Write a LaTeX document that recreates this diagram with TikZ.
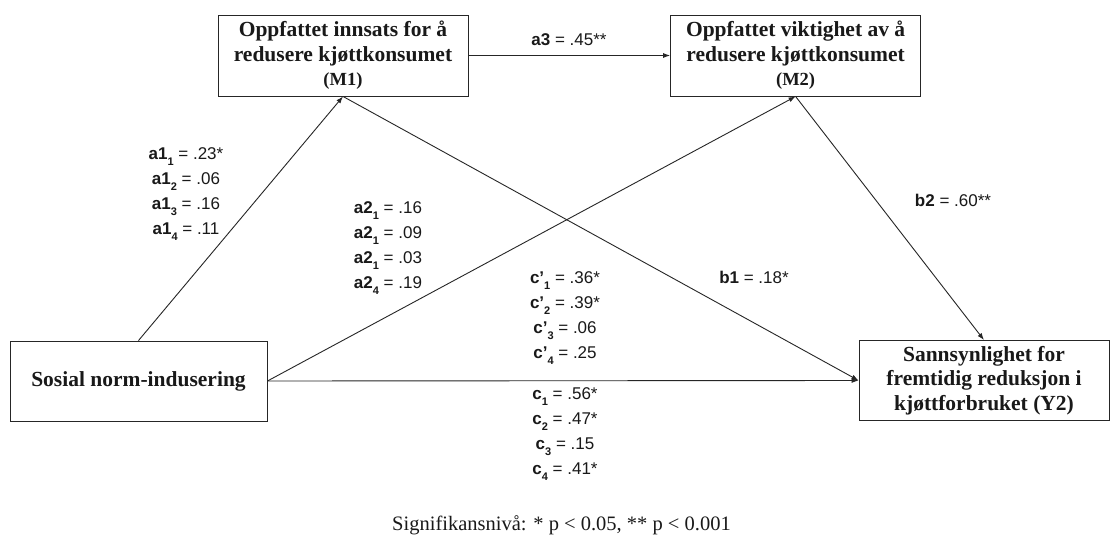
\documentclass[tikz,border=0pt]{standalone}
\usepackage{fontspec}
\setmainfont{Liberation Serif}
\newfontfamily\labfont{Liberation Sans}
\usetikzlibrary{arrows.meta}
\newcommand\sbs[1]{\raisebox{-0.35em}{\fontsize{11}{11}\selectfont\bfseries #1}}
\begin{document}
\begin{tikzpicture}[x=1pt,y=-1pt,
  box/.style={draw=black!85, line width=0.9pt, align=center, inner sep=0pt,
    font=\bfseries\fontsize{21.5}{24.5}\selectfont, text=black!90},
  conn/.style={draw=black!85, line width=0.9pt, -{Latex[length=7pt,width=5pt]}},
  lab/.style={font=\labfont\fontsize{17}{25}\selectfont, align=center, inner sep=0pt, text=black!90},
]
\useasboundingbox[fill=white] (0,0) rectangle (1111,538);

\node[box, minimum width=250pt, minimum height=81pt] (M1) at (343,55.5)
  {Oppfattet innsats for å\\redusere kjøttkonsumet\\{\fontsize{18.5}{22}\selectfont (M1)}};
\node[box, minimum width=250pt, minimum height=81pt] (M2) at (795.6,55.5)
  {Oppfattet viktighet av å\\redusere kjøttkonsumet\\{\fontsize{18.5}{22}\selectfont (M2)}};
\node[box, minimum width=257pt, minimum height=80pt] (X) at (138.5,381)
  {Sosial norm-indusering};
\node[box, minimum width=250pt, minimum height=80pt] (Y) at (984,380.5)
  {Sannsynlighet for\\fremtidig reduksjon i\\kjøttforbruket (Y2)};

\draw[conn] (M1.east) -- (M2.west);
\draw[conn] (X.north) -- (M1.south);
\draw[conn] (X.east) -- (M2.south);
\draw[conn] (M1.south) -- (Y.west);
\draw[conn] (X.east) -- (Y.west);
\draw[conn] (M2.south) -- (Y.north);

\node[lab] (la3) at (569,40) {\textbf{a3} = .45**};
\node[lab] (lb2) at (953,200) {\textbf{b2} = .60**};
\node[lab] (lb1) at (754,277) {\textbf{b1} = .18*};
\node[lab] (la1) at (186,194.5) {\textbf{a1\sbs{1}} = .23*\\\textbf{a1\sbs{2}} = .06\\\textbf{a1\sbs{3}} = .16\\\textbf{a1\sbs{4}} = .11};
\node[lab] (la2) at (388,248) {\textbf{a2\sbs{1}} = .16\\\textbf{a2\sbs{1}} = .09\\\textbf{a2\sbs{1}} = .03\\\textbf{a2\sbs{4}} = .19};
\node[lab] (lcp) at (565,318.5) {\textbf{c’\sbs{1}} = .36*\\\textbf{c’\sbs{2}} = .39*\\\textbf{c’\sbs{3}} = .06\\\textbf{c’\sbs{4}} = .25};
\node[lab] (lc) at (565,434) {\textbf{c\sbs{1}} = .56*\\\textbf{c\sbs{2}} = .47*\\\textbf{c\sbs{3}} = .15\\\textbf{c\sbs{4}} = .41*};

\node[font=\fontsize{20.5}{24}\selectfont, text=black!90, inner sep=0pt] (cap) at (561.5,525)
  {Signifikansnivå: * p < 0.05, ** p < 0.001};
\end{tikzpicture}
\end{document}
